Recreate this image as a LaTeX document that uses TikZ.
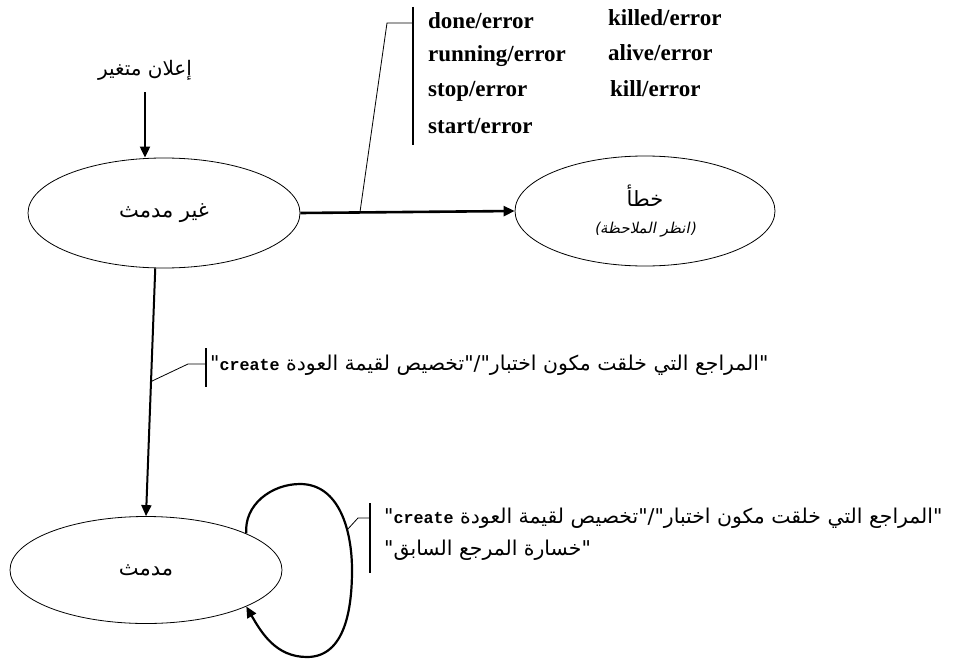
\documentclass[tikz,border=0pt]{standalone}
\usepackage{fontspec}
\setmainfont{Liberation Serif}
\newfontfamily\arabicfont[Script=Arabic]{DejaVu Sans}
\newfontfamily\arabicslant[Script=Arabic,FakeSlant=0.2]{DejaVu Sans}
\newfontfamily\codefont{Liberation Mono}
\TeXXeTstate=1
\usetikzlibrary{shapes.geometric,arrows.meta}

\tikzset{
  statenode/.style={ellipse, draw, line width=0.8pt, inner sep=0pt,
    font=\arabicfont\fontsize{21}{24}\selectfont},
  arr/.style={line width=2pt, -{Triangle[length=11pt,width=10pt]}},
  leader/.style={line width=0.8pt},
  bracebar/.style={line width=2.2pt},
  errlabel/.style={anchor=west, inner sep=0pt, font=\bfseries\fontsize{23}{26}\selectfont},
  arlabel/.style={anchor=west, inner sep=0pt, font=\arabicfont\fontsize{20.4}{24}\selectfont},
}
\newcommand{\codeword}[1]{{\codefont\bfseries\fontsize{16.7}{20}\selectfont\beginL #1\endL}}

\begin{document}
\begin{tikzpicture}[x=1pt, y=-1pt]
\useasboundingbox (0,0) rectangle (955,661);

% states
\node[statenode, minimum width=272pt, minimum height=110pt] (g) at (164,213) {\beginR غير مدمث\endR};
\node[statenode, minimum width=260pt, minimum height=110pt, align=center] (e) at (645,211)
  {\beginR خطأ\endR\\[3pt]{\arabicslant\fontsize{15}{18}\selectfont\beginR(انظر الملاحظة)\endR}};
\node[statenode, minimum width=272pt, minimum height=107pt] (m) at (146,570) {\beginR مدمث\endR};

% declaration
\node[font=\arabicfont\fontsize{20}{24}\selectfont, inner sep=0pt] (d) at (145,70) {\beginR إعلان متغير\endR};
\draw[arr] ([yshift=-12pt]d.south) -- (d.south |- g.north);

% transition to the error state
\draw[arr, line width=2.6pt] (g.east) -- (e.west);
\coordinate (t1) at (360,212);
\coordinate (t2) at (387,23);
\coordinate (b1top) at (413,7);
\coordinate (b1bot) at (413,145);
\draw[leader] (t1) -- (t2) -- (t2 -| b1top);
\draw[bracebar] (b1top) -- (b1bot);
\node[errlabel] (l1) at (428,21) {done/error};
\node[errlabel] (l2) at (428,56) {running/error};
\node[errlabel] (l3) at (428,91) {stop/error};
\node[errlabel] (l4) at (428,126) {start/error};
\node[errlabel] (l5) at (608,18) {killed/error};
\node[errlabel] (l6) at (608,53) {alive/error};
\node[errlabel] (l7) at (610,89) {kill/error};

% transition g -> m
\draw[arr] (g.261) -- (m.north);
\coordinate (c1) at (150,382);
\coordinate (c2) at (188,364);
\coordinate (b2top) at (206,348);
\coordinate (b2bot) at (206,387);
\draw[leader] (c1) -- (c2) -- (c2 -| b2top);
\draw[bracebar] (b2top) -- (b2bot);
\node[arlabel] (cl) at (210,365)
  {\beginR "المراجع التي خلقت مكون اختبار"/"تخصيص لقيمة العودة \codeword{create}"\endR};

% self loop on m
\coordinate (ltop) at (300,484);
\coordinate (lright) at (352,570);
\coordinate (lbot) at (307,657);
\draw[arr, line width=2.2pt] (m.20) to[out=95,in=180] (ltop) to[out=0,in=90] (lright)
  to[out=-90,in=0] (lbot) to[out=180,in=-60] (m.-20);
\coordinate (k1) at (347,530);
\coordinate (k2) at (358,518);
\coordinate (b3top) at (370,503);
\coordinate (b3bot) at (370,573);
\draw[leader] (k1) -- (k2) -- (k2 -| b3top);
\draw[bracebar] (b3top) -- (b3bot);
\node[arlabel] (s1) at (384,518)
  {\beginR "المراجع التي خلقت مكون اختبار"/"تخصيص لقيمة العودة \codeword{create}"\endR};
\node[arlabel] (s2) at (384,550) {\beginR "خسارة المرجع السابق"\endR};
\end{tikzpicture}
\end{document}
